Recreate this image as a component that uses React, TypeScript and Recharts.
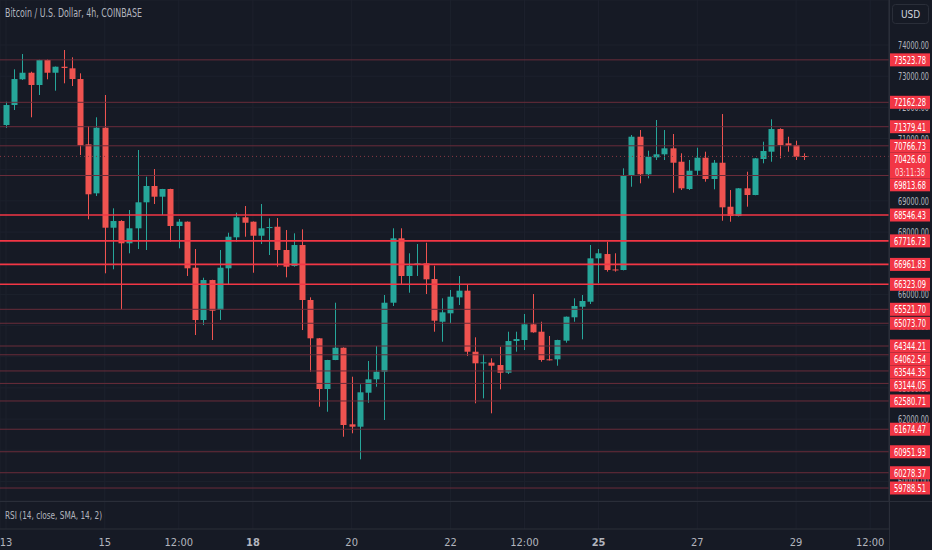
import { Bar, CartesianGrid, ComposedChart, Line, ReferenceLine, XAxis, YAxis } from "recharts";

// 4h candles, index 0 = 13th 00:00
const opens = [
  71434, 72075, 72900, 73111, 72717, 73519, 73111, 73304, 73252, 72909,
  70814, 69242, 71347, 68139, 68354, 67639, 68120, 68954, 69477, 69134,
  69381, 68194, 68332, 66856, 65178, 66461, 65499, 66837, 67831, 68473,
  68332, 67882, 68130, 68171, 67424, 66910, 67584, 65820, 64591, 62965,
  63895, 64289, 61832, 61755, 62846, 63276, 63520, 65733, 67799, 66590,
  66943, 66997, 66493, 65123, 65393, 65904, 66119, 64161, 63800, 63810,
  63734, 63487, 64504, 64536, 65040, 64803, 63917, 63917, 64515, 65265,
  65604, 65765, 67157, 67295, 66800, 66782, 69798, 71058, 69852, 70395,
  70494, 70686, 70256, 69380, 69968, 70385, 69701, 70224, 68812, 68514,
  69403, 69188, 70343, 70578, 71305, 70846, 70792, 70440,
];
const highs = [
  72181, 73220, 73711, 73143, 73530, 73541, 73310, 73840, 73605, 73092,
  71402, 71681, 72396, 68761, 68380, 68707, 70632, 69775, 70022, 69385,
  69390, 68418, 68340, 67456, 66535, 66470, 67424, 67978, 68620, 68835,
  68340, 68899, 68441, 68450, 68065, 67959, 68087, 65906, 64600, 63900,
  65733, 64300, 63359, 63115, 63863, 64344, 65980, 68120, 68120, 67318,
  67616, 67658, 66920, 65874, 66141, 66590, 66301, 64623, 64087, 63950,
  64321, 64803, 64803, 65371, 66012, 65123, 64665, 64545, 65290, 65874,
  65980, 67584, 67456, 67690, 67318, 70044, 71113, 71273, 70609, 71594,
  71273, 71145, 70526, 70311, 70705, 70577, 70311, 71786, 69348, 69410,
  69935, 70375, 70898, 71616, 71328, 71058, 70930, 70526,
];
const lows = [
  71337, 71915, 72880, 71681, 72396, 72900, 72534, 72771, 72685, 70471,
  68409, 69156, 66676, 66805, 65521, 67318, 67456, 67424, 68899, 68546,
  67690, 67478, 66590, 64697, 65018, 64536, 65178, 66301, 67690, 67850,
  66695, 67616, 67263, 66888, 66548, 66888, 64857, 63520, 62397, 62236,
  63890, 61434, 61544, 60709, 62525, 63038, 61970, 65627, 66301, 66054,
  66590, 66012, 64803, 64482, 65072, 65659, 64023, 62506, 62666, 62185,
  62954, 63445, 64161, 64215, 64770, 63840, 63880, 63712, 64450, 65123,
  64559, 65691, 66355, 66730, 66730, 66770, 69454, 69563, 69724, 70311,
  70311, 69262, 69348, 69348, 69829, 69615, 69371, 68363, 68331, 68500,
  68813, 69180, 70205, 70256, 70365, 70577, 70311, 70311,
];
const closes = [
  72075, 72909, 73111, 72717, 73519, 73111, 73304, 73262, 72909, 70782,
  69211, 71347, 68139, 68354, 67639, 68120, 68954, 69477, 69134, 69381,
  68194, 68332, 66837, 65178, 66461, 65476, 66856, 67850, 68473, 68299,
  67882, 68120, 68160, 67424, 66888, 67584, 65820, 64591, 62965, 63895,
  64289, 61810, 61755, 62859, 63276, 63520, 65733, 67799, 66590, 66920,
  66997, 66484, 65156, 65425, 65926, 66119, 64161, 63789, 63820, 63712,
  63487, 64504, 64568, 65040, 64783, 63895, 63895, 64536, 65284, 65627,
  65788, 67157, 67318, 66782, 66770, 69798, 71058, 69852, 70417, 70494,
  70686, 70224, 69403, 69968, 70385, 69701, 70224, 68793, 68514, 69403,
  69188, 70365, 70600, 71305, 70792, 70769, 70417, 70426.6,
];

const levels = [
  73523.78, 72162.28, 71379.41, 70766.73, 70426.6, 69813.68, 68546.43, 67716.73,
  66961.83, 66323.09, 65521.7, 65073.7, 64344.21, 64062.54, 63544.35, 63144.05,
  62580.71, 61674.47, 60951.93, 60278.37, 59788.51,
];
const majorLevels = [68546.43, 67716.73, 66961.83, 66323.09];
const lastPrice = 70426.6;
const countdown = "03:11:38";

const priceTicks = [60000, 61000, 62000, 63000, 64000, 65000, 66000, 67000, 68000, 69000, 70000, 71000, 72000, 73000, 74000];
const timeTicks = [0, 12, 21, 30, 42, 54, 63, 72, 84, 96, 105];
const timeLabels = ["13", "15", "12:00", "18", "20", "22", "12:00", "25", "27", "29", "12:00"];
const boldLabels = ["18", "25"];

const candles = opens.map((open, i) => ({
  i,
  open,
  high: highs[i],
  low: lows[i],
  close: closes[i],
}));

const BG = "#161a25";
const GRID = "#1d212d";
const BORDER = "#2a2e39";
const TEXT = "#b2b5be";
const UP = "#26a69a";
const DOWN = "#ef5350";
const TAG = "#f23645";
const FONT = "'Liberation Sans Narrow', 'DejaVu Sans Condensed', Roboto, sans-serif";

const W = 932;
const PRICE_H = 501;
const AXIS_W = 43;
const X_DOMAIN = [-0.73, 107.29];
const Y_DOMAIN = [59372, 75444];

// push overlapping price tags down, like the price scale does
const TAG_H = 13;
const tagShift = (() => {
  const ppu = PRICE_H / (Y_DOMAIN[1] - Y_DOMAIN[0]);
  const out = new Map<number, number>();
  let prevBottom = -Infinity;
  [...levels].sort((a, b) => b - a).forEach((v) => {
    const y = (Y_DOMAIN[1] - v) * ppu - TAG_H / 2;
    const top = Math.max(y, prevBottom);
    out.set(v, top - y);
    prevBottom = top + (v === lastPrice ? TAG_H * 2 : TAG_H);
  });
  return out;
})();

function Candle(props: any) {
  const { x, y, width, height, payload } = props;
  const { open, close, high, low } = payload;
  const color = close >= open ? UP : DOWN;
  const ratio = height / (high - low);
  const top = y + (high - Math.max(open, close)) * ratio;
  const bodyH = Math.max(1, Math.abs(open - close) * ratio);
  const cx = Math.round(x + width / 2) + 0.5;
  return (
    <g>
      <line x1={cx} x2={cx} y1={y} y2={y + height} stroke={color} strokeWidth={1} />
      <rect x={cx - 3} y={top} width={6} height={bodyH} fill={color} />
    </g>
  );
}

function PriceTick(props: any) {
  const { x, y, payload } = props;
  return (
    <text x={x + 1} y={y + 4} fill={TEXT} fontSize={11} fontFamily={FONT} textLength={31} lengthAdjust="spacingAndGlyphs">
      {payload.value.toFixed(2)}
    </text>
  );
}

function LevelTag(props: any) {
  const { viewBox, value } = props;
  const x = viewBox.x + viewBox.width + 1;
  const y = viewBox.y + (tagShift.get(value) || 0);
  const current = value === lastPrice;
  return (
    <g>
      <rect x={x} y={y - TAG_H / 2} width={40} height={current ? TAG_H * 2 : TAG_H} fill={TAG} />
      <text x={x + 4} y={y + 4} fill="#ffffff" fontSize={11} fontFamily={FONT} textLength={32} lengthAdjust="spacingAndGlyphs">
        {value.toFixed(2)}
      </text>
      {current && (
        <text x={x + 5} y={y + 17} fill="#ffd9dc" fontSize={11} fontFamily={FONT} textLength={30} lengthAdjust="spacingAndGlyphs">
          {countdown}
        </text>
      )}
    </g>
  );
}

function TimeTick(props: any) {
  const { x, y, payload } = props;
  const label = timeLabels[timeTicks.indexOf(payload.value)];
  return (
    <text x={x} y={y + 9} textAnchor="middle" fill={TEXT} fontSize={11} fontFamily={FONT} fontWeight={boldLabels.includes(label) ? 700 : 400}>
      {label}
    </text>
  );
}

const levelStroke = (v: number) => (v === lastPrice ? "#8a3a44" : majorLevels.includes(v) ? TAG : "#6a2c3a");

export default function App() {
  return (
    <div style={{ position: "relative", width: W, height: 550, background: BG, overflow: "hidden" }}>
      <style>{"body{margin:0;background:" + BG + "}"}</style>
      <ComposedChart width={W} height={PRICE_H} data={candles} margin={{ top: 0, right: 0, left: 0, bottom: 0 }}>
        <CartesianGrid stroke={GRID} />
        <XAxis dataKey="i" type="number" domain={X_DOMAIN} ticks={timeTicks} hide allowDataOverflow />
        <YAxis
          orientation="right"
          domain={Y_DOMAIN}
          ticks={priceTicks}
          interval={0}
          width={AXIS_W}
          allowDataOverflow
          axisLine={{ stroke: BORDER }}
          tickLine={false}
          tick={<PriceTick />}
        />
        <Bar dataKey={(d: any) => [d.low, d.high]} barSize={6} shape={<Candle />} isAnimationActive={false} />
        {levels.map((v) => (
          <ReferenceLine
            key={v}
            y={v}
            stroke={levelStroke(v)}
            strokeWidth={majorLevels.includes(v) ? 1.6 : 1}
            strokeDasharray={v === lastPrice ? "1 3" : undefined}
          />
        ))}
      </ComposedChart>

      {/* price tags sit above the scale's own tick labels */}
      <div style={{ position: "absolute", left: 0, top: 0, pointerEvents: "none" }}>
        <ComposedChart width={W} height={PRICE_H} data={candles} margin={{ top: 0, right: 0, left: 0, bottom: 0 }}>
          <XAxis dataKey="i" type="number" domain={X_DOMAIN} hide allowDataOverflow />
          <YAxis orientation="right" domain={Y_DOMAIN} width={AXIS_W} allowDataOverflow axisLine={false} tickLine={false} tick={false} />
          <Line dataKey="close" stroke="none" dot={false} activeDot={false} isAnimationActive={false} />
          {levels.map((v) => (
            <ReferenceLine key={v} y={v} stroke="none" label={(p: any) => <LevelTag {...p} value={v} />} />
          ))}
        </ComposedChart>
      </div>

      <div style={{ position: "absolute", left: 0, top: PRICE_H, width: W, height: 49, borderTop: `1px solid ${BORDER}`, boxSizing: "border-box" }}>
        <ComposedChart width={W} height={48} data={candles} margin={{ top: 0, right: AXIS_W, left: 0, bottom: 0 }}>
          <CartesianGrid stroke={GRID} horizontal={false} />
          <XAxis
            dataKey="i"
            type="number"
            domain={X_DOMAIN}
            ticks={timeTicks}
            interval={0}
            allowDataOverflow
            height={21}
            axisLine={{ stroke: BORDER }}
            tickLine={false}
            tick={<TimeTick />}
          />
          <YAxis hide domain={Y_DOMAIN} />
          <Line dataKey="close" stroke="none" dot={false} activeDot={false} isAnimationActive={false} />
        </ComposedChart>
      </div>

      <div style={{ position: "absolute", left: W - AXIS_W, top: 0, width: 1, height: 550, background: BORDER }} />

      <svg width={W} height={550} style={{ position: "absolute", left: 0, top: 0, pointerEvents: "none" }}>
        <text x={5} y={17} fill={TEXT} fontSize={12} fontFamily={FONT} textLength={137} lengthAdjust="spacingAndGlyphs">
          Bitcoin / U.S. Dollar, 4h, COINBASE
        </text>
        <rect x={892.5} y={4.5} width={36} height={19} rx={3} fill={BG} stroke={BORDER} />
        <text x={910.5} y={18} textAnchor="middle" fill="#d1d4dc" fontSize={10} fontFamily={FONT}>
          USD
        </text>
        <text x={5} y={519} fill={TEXT} fontSize={11} fontFamily={FONT} textLength={97} lengthAdjust="spacingAndGlyphs">
          RSI (14, close, SMA, 14, 2)
        </text>
      </svg>
    </div>
  );
}
